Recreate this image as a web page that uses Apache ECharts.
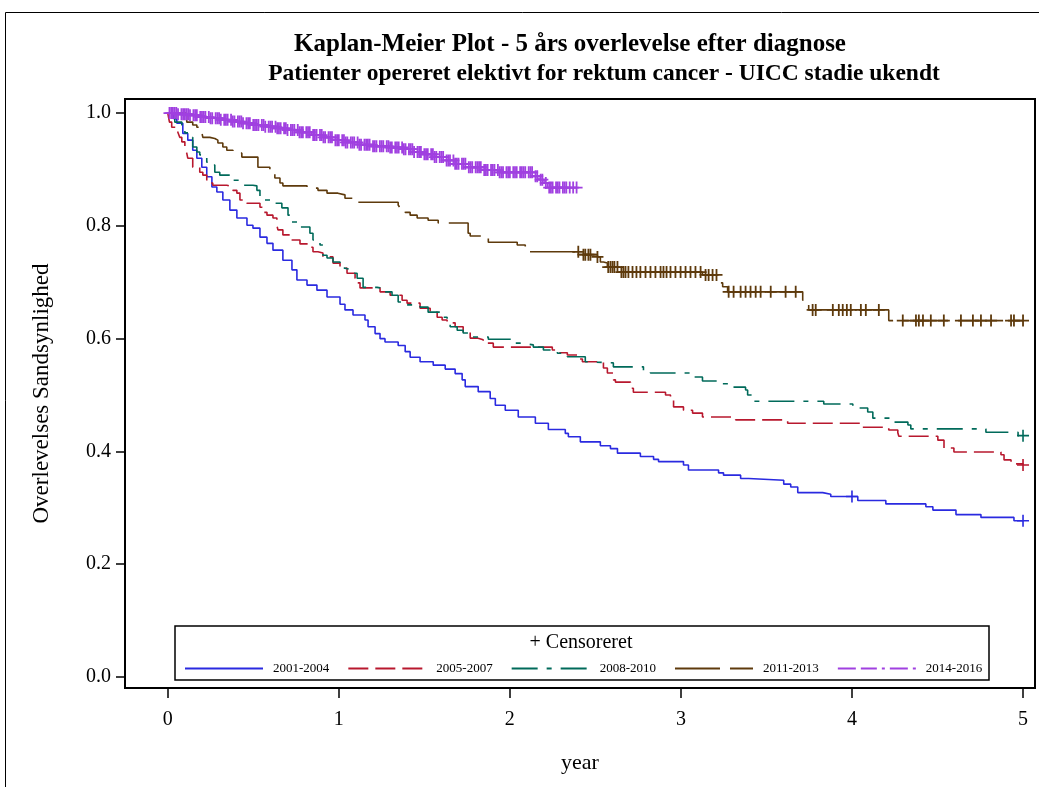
<!DOCTYPE html>
<html><head><meta charset="utf-8">
<script src="https://cdn.jsdelivr.net/npm/echarts@6/dist/echarts.min.js"></script>
<style>html,body{margin:0;padding:0;background:#fff}#c{width:1039px;height:787px}</style>
</head><body><div id="c"></div>
<script>
// ---------------- DATA ----------------
const groupNames = ['2001-2004', '2005-2007', '2008-2010', '2011-2013', '2014-2016'];
const xTickValues = [0, 1, 2, 3, 4, 5];
const yTickValues = [0, 0.2, 0.4, 0.6, 0.8, 1.0];

// 2001-2004 (time in years, survival after the drop)
const t2001 = [0,0.035,0.053,0.088,0.117,0.146,0.170,0.199,0.228,0.258,0.287,0.322,0.363,0.404,0.463,0.498,0.539,0.580,0.615,0.673,0.726,0.755,0.814,0.872,0.931,1.007,1.036,1.083,1.153,1.171,1.212,1.241,1.270,1.347,1.388,1.417,1.475,1.552,1.622,1.680,1.721,1.739,1.815,1.885,1.915,1.973,2.049,2.149,2.225,2.324,2.342,2.412,2.529,2.588,2.629,2.763,2.840,2.869,3.015,3.044,3.220,3.249,3.349,3.396,3.601,3.642,3.683,3.829,3.876,4.034,4.198,4.432,4.473,4.608,4.754,4.947,5.0];
const s2001 = [1.0,0.990,0.982,0.964,0.952,0.934,0.920,0.904,0.887,0.869,0.860,0.846,0.828,0.814,0.801,0.796,0.780,0.769,0.757,0.739,0.722,0.704,0.695,0.686,0.674,0.661,0.651,0.642,0.633,0.621,0.609,0.600,0.594,0.588,0.577,0.567,0.559,0.553,0.546,0.538,0.527,0.515,0.506,0.494,0.482,0.473,0.461,0.450,0.439,0.432,0.426,0.417,0.410,0.405,0.397,0.391,0.386,0.382,0.376,0.367,0.362,0.358,0.352,0.349,0.342,0.337,0.327,0.324,0.320,0.313,0.307,0.302,0.296,0.288,0.283,0.277,0.277];
const c2001 = [4.0, 5.0];

// 2005-2007
const t2005 = [0,0.010,0.023,0.059,0.070,0.082,0.100,0.111,0.117,0.146,0.187,0.205,0.228,0.263,0.345,0.381,0.404,0.422,0.463,0.539,0.556,0.580,0.615,0.638,0.644,0.673,0.714,0.773,0.831,0.849,0.878,0.907,0.966,1.007,1.048,1.095,1.107,1.124,1.241,1.300,1.370,1.399,1.475,1.534,1.575,1.604,1.633,1.680,1.727,1.768,1.809,1.844,1.903,2.248,2.278,2.336,2.395,2.424,2.547,2.570,2.605,2.617,2.705,2.722,2.910,2.939,2.957,3.015,3.068,3.126,3.320,3.624,4.063,4.215,4.268,4.274,4.502,4.538,4.596,4.871,4.889,4.930,5.0];
const s2005 = [1.0,0.984,0.975,0.966,0.957,0.949,0.934,0.929,0.920,0.904,0.895,0.890,0.876,0.872,0.869,0.863,0.858,0.846,0.840,0.833,0.824,0.819,0.814,0.801,0.793,0.784,0.775,0.768,0.762,0.754,0.752,0.745,0.734,0.725,0.716,0.707,0.699,0.690,0.683,0.677,0.668,0.663,0.654,0.647,0.638,0.633,0.628,0.621,0.612,0.601,0.598,0.592,0.585,0.580,0.575,0.571,0.564,0.559,0.548,0.539,0.527,0.523,0.512,0.505,0.500,0.491,0.479,0.473,0.468,0.461,0.456,0.450,0.443,0.438,0.433,0.427,0.420,0.406,0.399,0.394,0.385,0.378,0.376];
const c2005 = [5.0];

// 2008-2010
const t2008 = [0,0.041,0.082,0.100,0.129,0.146,0.170,0.187,0.228,0.246,0.275,0.304,0.363,0.375,0.422,0.433,0.498,0.521,0.539,0.556,0.615,0.667,0.703,0.726,0.773,0.831,0.849,0.890,0.907,0.931,0.966,1.007,1.036,1.083,1.107,1.142,1.224,1.241,1.311,1.347,1.399,1.475,1.522,1.604,1.633,1.651,1.692,1.727,1.756,1.874,2.020,2.061,2.137,2.196,2.278,2.336,2.441,2.453,2.605,2.781,2.822,3.056,3.126,3.232,3.302,3.378,3.390,3.425,3.835,4.005,4.092,4.122,4.245,4.327,4.344,4.783,4.971,5.0];
const s2008 = [1.0,0.984,0.979,0.965,0.957,0.940,0.931,0.926,0.913,0.908,0.895,0.890,0.885,0.881,0.878,0.872,0.871,0.863,0.851,0.846,0.840,0.832,0.819,0.807,0.798,0.787,0.775,0.766,0.748,0.743,0.736,0.725,0.722,0.716,0.707,0.691,0.690,0.683,0.677,0.665,0.660,0.656,0.647,0.638,0.633,0.621,0.615,0.610,0.603,0.599,0.592,0.589,0.585,0.580,0.574,0.568,0.559,0.557,0.550,0.544,0.539,0.532,0.525,0.520,0.514,0.509,0.500,0.489,0.484,0.477,0.470,0.459,0.452,0.447,0.440,0.434,0.428,0.428];
const c2008 = [5.0];

// 2011-2013
const t2011 = [0,0.111,0.146,0.170,0.199,0.205,0.246,0.275,0.293,0.322,0.345,0.381,0.433,0.527,0.597,0.609,0.626,0.656,0.673,0.814,0.878,0.931,0.995,1.036,1.083,1.347,1.358,1.388,1.417,1.458,1.522,1.581,1.756,1.768,1.874,2.043,2.090,2.108,2.412,2.512,2.529,2.547,2.570,2.646,3.126,3.214,3.220,3.244,3.273,3.712,3.729,3.747,4.215,5.0];
const s2011 = [1.0,0.984,0.979,0.975,0.966,0.957,0.955,0.952,0.947,0.940,0.934,0.929,0.922,0.904,0.899,0.894,0.885,0.876,0.871,0.867,0.863,0.858,0.855,0.849,0.842,0.837,0.832,0.824,0.819,0.814,0.810,0.805,0.787,0.782,0.771,0.766,0.761,0.754,0.749,0.745,0.736,0.734,0.727,0.718,0.713,0.707,0.699,0.692,0.683,0.668,0.660,0.651,0.632,0.632];
const c2011 = [2.400,2.430,2.441,2.459,2.471,2.512,2.575,2.588,2.600,2.611,2.629,2.652,2.664,2.676,2.693,2.717,2.740,2.763,2.793,2.822,2.851,2.881,2.898,2.916,2.939,2.968,2.998,3.027,3.056,3.085,3.115,3.144,3.162,3.185,3.208,3.279,3.308,3.349,3.378,3.407,3.437,3.466,3.525,3.612,3.671,3.770,3.788,3.888,3.923,3.946,3.970,3.993,4.052,4.081,4.157,4.297,4.374,4.391,4.415,4.461,4.537,4.637,4.707,4.754,4.813,4.930,4.947,5.0];

// 2014-2016
const t2014 = [0,0.06,0.13,0.19,0.25,0.31,0.38,0.44,0.50,0.57,0.64,0.70,0.77,0.84,0.91,0.97,1.04,1.12,1.20,1.30,1.38,1.44,1.50,1.56,1.62,1.68,1.76,1.85,1.94,2.14,2.17,2.20,2.22,2.40];
const s2014 = [1.0,0.998,0.996,0.993,0.991,0.988,0.985,0.982,0.979,0.976,0.973,0.970,0.966,0.961,0.957,0.952,0.948,0.944,0.941,0.939,0.936,0.931,0.927,0.922,0.916,0.910,0.904,0.899,0.895,0.888,0.882,0.876,0.868,0.868];
const c2014 = [0.01,0.02,0.03,0.04,0.05,0.06,0.08,0.09,0.10,0.11,0.12,0.13,0.15,0.16,0.17,0.19,0.20,0.21,0.22,0.24,0.25,0.26,0.28,0.29,0.30,0.31,0.33,0.34,0.35,0.37,0.38,0.39,0.41,0.42,0.43,0.44,0.46,0.47,0.48,0.50,0.51,0.52,0.53,0.55,0.56,0.57,0.59,0.60,0.61,0.63,0.64,0.65,0.66,0.68,0.69,0.70,0.72,0.73,0.74,0.76,0.77,0.78,0.79,0.81,0.82,0.83,0.85,0.86,0.87,0.89,0.90,0.91,0.92,0.94,0.95,0.96,0.98,0.99,1.00,1.02,1.03,1.04,1.05,1.07,1.08,1.09,1.11,1.12,1.13,1.15,1.16,1.17,1.18,1.20,1.21,1.22,1.24,1.25,1.26,1.28,1.29,1.30,1.31,1.33,1.34,1.35,1.37,1.38,1.39,1.41,1.42,1.43,1.44,1.46,1.47,1.48,1.50,1.51,1.52,1.54,1.55,1.56,1.57,1.59,1.60,1.61,1.63,1.64,1.65,1.67,1.68,1.69,1.70,1.72,1.73,1.74,1.76,1.77,1.78,1.80,1.81,1.82,1.83,1.85,1.86,1.87,1.89,1.90,1.91,1.93,1.94,1.95,1.96,1.98,1.99,2.00,2.02,2.03,2.04,2.06,2.07,2.08,2.09,2.11,2.12,2.13,2.15,2.16,2.18,2.19,2.21,2.23,2.24,2.25,2.27,2.28,2.29,2.31,2.32,2.33,2.35,2.37,2.39];

// ---------------- CHART ----------------
const colors = ['#2a2ae0', '#b8182e', '#006a5a', '#5e3a0c', '#a040e0'];
const dashes = ['solid', [20, 7], [26, 9, 5, 9], [45, 10], [18, 5, 16, 5, 3, 5]];
const times = [t2001, t2005, t2008, t2011, t2014];
const survs = [s2001, s2005, s2008, s2011, s2014];
const cens = [c2001, c2005, c2008, c2011, c2014];
const censSize = [12, 12, 12, 12, 12];
const censWidth = [1.6, 1.6, 1.6, 1.8, 1.8];

function survAt(ts, ss, t) {
  let v = ss[0];
  for (let i = 0; i < ts.length; i++) { if (ts[i] <= t + 1e-9) v = ss[i]; else break; }
  return v;
}
const FONT = '"Liberation Serif", "Times New Roman", serif';
const series = [];
groupNames.forEach((n, k) => {
  series.push({
    name: n, type: 'line', step: 'end', showSymbol: false, symbol: 'none',
    data: times[k].map((t, i) => [t, survs[k][i]]),
    lineStyle: { color: colors[k], width: 1.6, type: dashes[k] },
    itemStyle: { color: colors[k] },
    z: 2 + k, animation: false, silent: true
  });
});
groupNames.forEach((n, k) => {
  series.push({
    name: n + ' censur', type: 'scatter',
    symbol: 'path://M5,0L5,10M0,5L10,5', symbolSize: censSize[k],
    data: cens[k].map(t => [t, survAt(times[k], survs[k], t)]),
    itemStyle: { color: 'transparent', borderColor: colors[k], borderWidth: censWidth[k], opacity: 1 },
    z: 10 + k, animation: false, silent: true
  });
});

const chart = echarts.init(document.getElementById('c'), null, { renderer: 'canvas' });
chart.setOption({
  animation: false,
  backgroundColor: '#fff',
  grid: { left: 125, right: 4, top: 99, bottom: 99, show: true, borderColor: '#000', borderWidth: 2, containLabel: false },
  xAxis: {
    type: 'value', min: -0.25, max: 5.07,
    name: 'year', nameLocation: 'middle', nameGap: 64,
    nameTextStyle: { fontFamily: FONT, fontSize: 22, color: '#000' },
    axisLine: { show: true, onZero: false, lineStyle: { color: '#000', width: 2 } },
    axisTick: { show: true, length: 10, customValues: xTickValues, lineStyle: { color: '#000', width: 1.5 } },
    axisLabel: { customValues: xTickValues, margin: 22, fontFamily: FONT, fontSize: 20, color: '#000' },
    splitLine: { show: false }
  },
  yAxis: {
    type: 'value', min: -0.0195, max: 1.025,
    name: 'Overlevelses Sandsynlighed', nameLocation: 'middle', nameGap: 72, nameRotate: 90,
    nameTextStyle: { fontFamily: FONT, fontSize: 23, color: '#000' },
    axisLine: { show: true, onZero: false, lineStyle: { color: '#000', width: 2 } },
    axisTick: { show: true, length: 9, customValues: yTickValues, lineStyle: { color: '#000', width: 1.5 } },
    axisLabel: { customValues: yTickValues, margin: 14, fontFamily: FONT, fontSize: 20, color: '#000',
      formatter: v => v.toFixed(1) },
    splitLine: { show: false }
  },
  legend: {
    data: groupNames, left: 184, top: 662, orient: 'horizontal', padding: 0,
    itemWidth: 78, itemHeight: 12, itemGap: 18,
    itemStyle: { color: 'transparent', borderColor: 'transparent', borderWidth: 0, opacity: 0 },
    textStyle: { fontFamily: FONT, fontSize: 13, color: '#000', padding: [0, 0, 0, 5] },
    selectedMode: false
  },
  graphic: [
    { type: 'rect', shape: { x: 5.5, y: 12.5, width: 1100, height: 900 }, style: { fill: 'none', stroke: '#000', lineWidth: 1 }, silent: true, z: 0 },
    { type: 'rect', shape: { x: 175, y: 626, width: 814, height: 54 }, style: { fill: 'none', stroke: '#000', lineWidth: 1.5 }, silent: true, z: 50 },
    { type: 'text', x: 581, y: 643, style: { text: '+ Censoreret', font: '20px ' + FONT, fill: '#000', textAlign: 'center', textVerticalAlign: 'middle', align: 'center', verticalAlign: 'middle' }, z: 50 },
    { type: 'text', x: 570, y: 45, style: { text: 'Kaplan-Meier Plot - 5 års overlevelse efter diagnose', font: 'bold 25px ' + FONT, fill: '#000', textAlign: 'center', textVerticalAlign: 'middle', align: 'center', verticalAlign: 'middle' }, z: 50 },
    { type: 'text', x: 604, y: 74, style: { text: 'Patienter opereret elektivt for rektum cancer - UICC stadie ukendt', font: 'bold 23.5px ' + FONT, fill: '#000', textAlign: 'center', textVerticalAlign: 'middle', align: 'center', verticalAlign: 'middle' }, z: 50 }
  ],
  series: series
});
</script>
</body></html>
